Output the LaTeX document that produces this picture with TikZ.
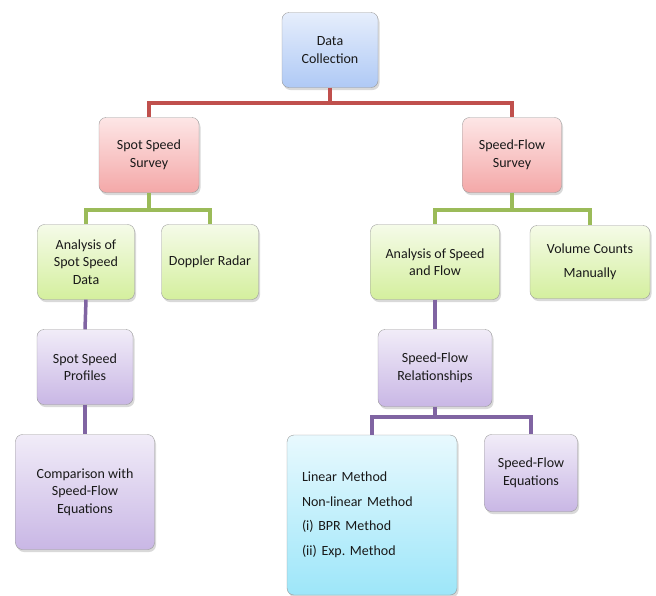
\documentclass[tikz,border=0pt]{standalone}
\usepackage{fontspec}
\setmainfont{Carlito}
\usetikzlibrary{shadows}

\definecolor{lnred}{HTML}{C0504D}
\definecolor{lngreen}{HTML}{9BBB59}
\definecolor{lnpurple}{HTML}{8064A2}
\definecolor{bluetop}{HTML}{E6EEFC}
\definecolor{bluebot}{HTML}{AFC9F5}
\definecolor{redtop}{HTML}{FDE6E6}
\definecolor{redbot}{HTML}{F4A8A8}
\definecolor{greentop}{HTML}{F5FBE8}
\definecolor{greenbot}{HTML}{D4EF9E}
\definecolor{purpletop}{HTML}{F1ECF8}
\definecolor{purplebot}{HTML}{C9B7E5}
\definecolor{cyantop}{HTML}{E8F9FE}
\definecolor{cyanbot}{HTML}{9DE6F9}

\begin{document}
\begin{tikzpicture}[x=1pt, y=-1pt,
    box/.style={draw=black!40, rounded corners=7pt, align=center, text=black!90,
        font=\fontsize{14}{17.5}\selectfont, minimum height=75pt, inner xsep=4pt,
        drop shadow={shadow xshift=1.5pt, shadow yshift=-2.5pt, opacity=0.3}},
    bluebox/.style={box, top color=bluetop, bottom color=bluebot},
    redbox/.style={box, top color=redtop, bottom color=redbot},
    greenbox/.style={box, top color=greentop, bottom color=greenbot},
    purplebox/.style={box, top color=purpletop, bottom color=purplebot},
    cyanbox/.style={box, top color=cyantop, bottom color=cyanbot},
    redline/.style={line width=3.5pt, draw=lnred},
    greenline/.style={line width=3.5pt, draw=lngreen},
    purpleline/.style={line width=3.5pt, draw=lnpurple}]

    \useasboundingbox (0,0) rectangle (656,595);

    % Boxes:
    \node[bluebox, minimum width=96pt] (dc) at (330,50) {Data\\Collection};
    \node[redbox, minimum width=100pt] (sss) at (149,155) {Spot Speed\\Survey};
    \node[redbox, minimum width=99pt] (sfs) at (512,155) {Speed-Flow\\Survey};
    \node[greenbox, minimum width=97pt] (asd) at (86,262) {Analysis of\\Spot Speed\\Data};
    \node[greenbox, minimum width=97pt] (dr) at (210,262) {Doppler Radar};
    \node[greenbox, minimum width=129pt] (asf) at (435,262) {Analysis of Speed\\and Flow};
    \node[greenbox, minimum width=120pt, minimum height=73pt] (vcm) at (590,262) {Volume Counts\\[6pt]Manually};
    \node[purplebox, minimum width=96pt] (ssp) at (85,367) {Spot Speed\\Profiles};
    \node[purplebox, minimum width=114pt, minimum height=77pt] (sfr) at (435,368) {Speed-Flow\\Relationships};
    \node[purplebox, minimum width=139pt, minimum height=115pt] (cmp) at (85,492) {Comparison with\\Speed-Flow\\Equations};
    \node[cyanbox, text width=140pt, inner xsep=15pt, minimum height=160pt, align=left] (lin) at (372,515)
        {Linear Method\\[7pt]Non-linear Method\\[7pt](i) BPR Method\\[7pt](ii) Exp.\ Method};
    \node[purplebox, minimum width=93pt, minimum height=77pt] (sfe) at (531,473) {Speed-Flow\\Equations};

    % Connectors:
    \coordinate (rj) at (330,103);
    \draw[redline] (dc.south) -- (rj) -| (sss.north);
    \draw[redline] (rj) -| (sfs.north);

    \coordinate (gl) at (149,210);
    \draw[greenline] (sss.south) -- (gl) -| (asd.north);
    \draw[greenline] (gl) -| (dr.north);
    \coordinate (gr) at (512,210);
    \draw[greenline] (sfs.south) -- (gr) -| (asf.north);
    \draw[greenline] (gr) -| (vcm.north);

    \draw[purpleline] (asd.south) -- (ssp.north);
    \draw[purpleline] (ssp.south) -- (cmp.north);
    \draw[purpleline] (asf.south) -- (sfr.north);
    \coordinate (pj) at (435,417);
    \draw[purpleline] (sfr.south) -- (pj) -| (lin.north);
    \draw[purpleline] (pj) -| (sfe.north);
\end{tikzpicture}
\end{document}
